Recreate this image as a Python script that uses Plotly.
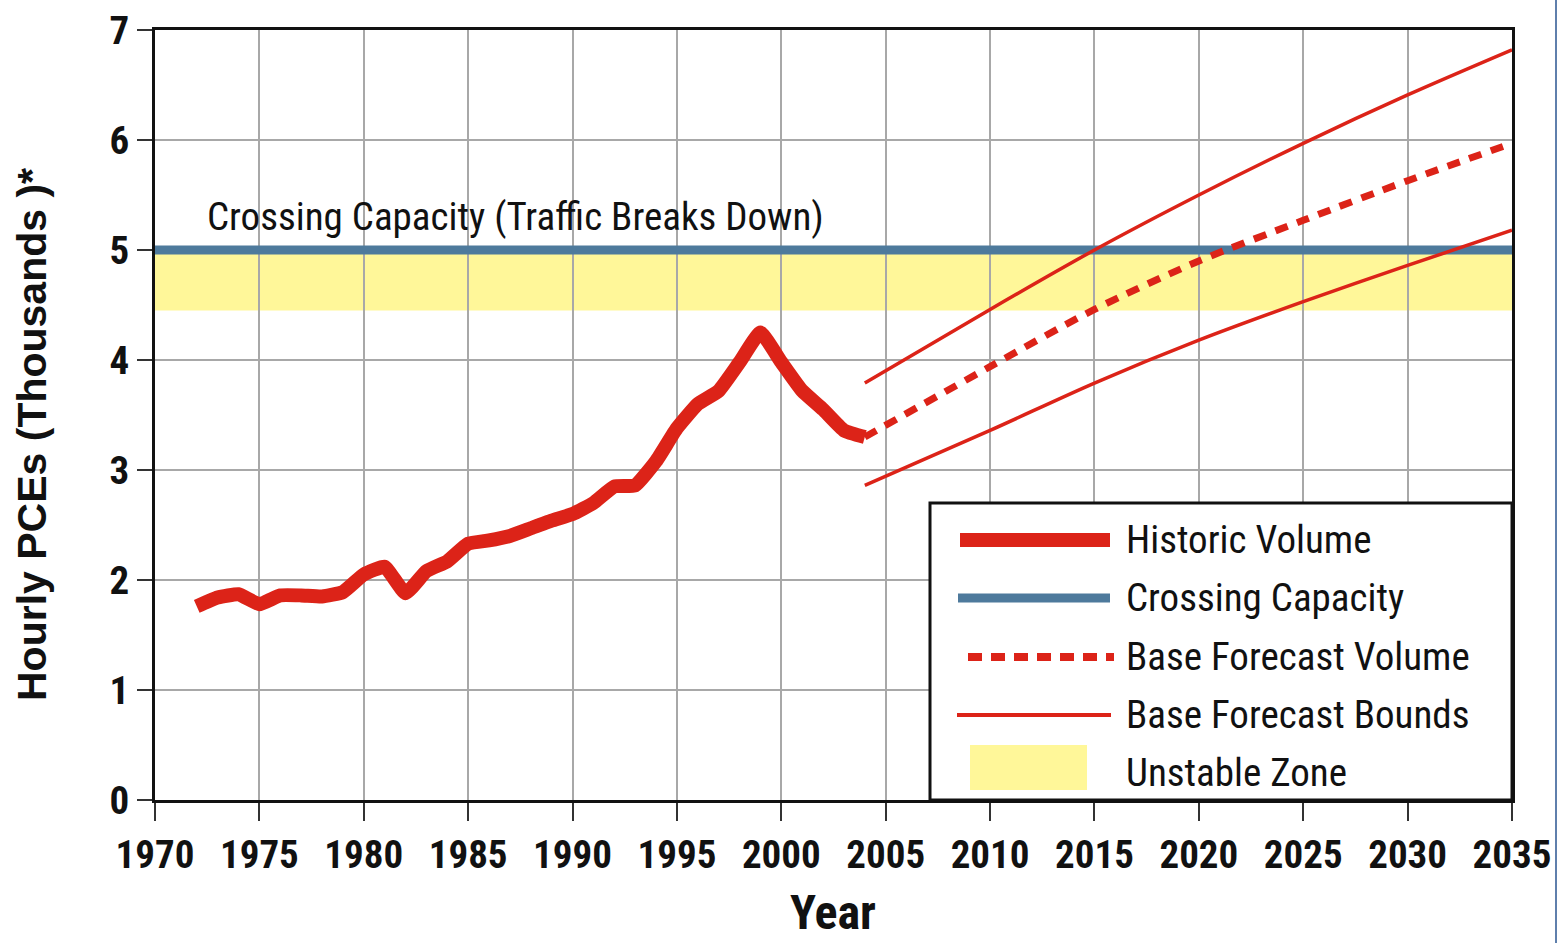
import plotly.graph_objects as go

# ---------------- data ----------------
hist_years = [1972, 1973, 1974, 1975, 1976, 1977, 1978, 1979, 1980, 1981, 1982, 1983,
              1984, 1985, 1986, 1987, 1988, 1989, 1990, 1991, 1992, 1993, 1994, 1995,
              1996, 1997, 1998, 1999, 2000, 2001, 2002, 2003, 2004]
hist_values = [1.76, 1.84, 1.87, 1.78, 1.86, 1.86, 1.85, 1.89, 2.05, 2.12, 1.88, 2.08,
               2.17, 2.33, 2.36, 2.40, 2.47, 2.54, 2.60, 2.70, 2.85, 2.86, 3.08, 3.38,
               3.60, 3.72, 3.98, 4.25, 3.98, 3.72, 3.55, 3.36, 3.30]

fc_years = [2004, 2010, 2015, 2020, 2025, 2030, 2035]
fc_base = [3.30, 3.94, 4.46, 4.90, 5.27, 5.63, 5.97]
fc_upper = [3.79, 4.46, 5.00, 5.50, 5.97, 6.41, 6.82]
fc_lower = [2.86, 3.36, 3.79, 4.18, 4.53, 4.86, 5.18]

capacity = 5.0
unstable_low = 4.45
x_range = [1970, 2035]
y_range = [0, 7]
x_ticks = list(range(1970, 2036, 5))
y_ticks = list(range(0, 8))

legend_labels = ["Historic Volume", "Crossing Capacity", "Base Forecast Volume",
                 "Base Forecast Bounds", "Unstable Zone"]
capacity_label = "Crossing Capacity (Traffic Breaks Down)"
y_title = "Hourly PCEs (Thousands )*"
x_title = "Year"

# ---------------- styles ----------------
RED = "#dc2318"
BLUE = "#4e7a9c"
YELLOW = "#fff799"
NARROW = "Roboto Condensed, Liberation Sans Narrow, Arial Narrow, sans-serif"
SANS = "Liberation Sans, Arial, sans-serif"

fig = go.Figure()

# unstable zone
fig.add_shape(type="rect", xref="x", yref="y", x0=x_range[0], x1=x_range[1],
              y0=unstable_low, y1=capacity, fillcolor=YELLOW, line_width=0, layer="below")

# capacity line
fig.add_trace(go.Scatter(x=x_range, y=[capacity, capacity], mode="lines",
                         line=dict(color=BLUE, width=9), showlegend=False, hoverinfo="skip"))

# forecast bounds
fig.add_trace(go.Scatter(x=fc_years, y=fc_upper, mode="lines",
                         line=dict(color=RED, width=3.5, shape="spline", smoothing=0.8),
                         showlegend=False))
fig.add_trace(go.Scatter(x=fc_years, y=fc_lower, mode="lines",
                         line=dict(color=RED, width=3.5, shape="spline", smoothing=0.8),
                         showlegend=False))
# base forecast
fig.add_trace(go.Scatter(x=fc_years, y=fc_base, mode="lines",
                         line=dict(color=RED, width=7, dash="13px,10px", shape="spline", smoothing=0.8),
                         showlegend=False))
# historic
fig.add_trace(go.Scatter(x=hist_years, y=hist_values, mode="lines",
                         line=dict(color=RED, width=14, shape="spline", smoothing=0.4),
                         showlegend=False))

# capacity label
fig.add_annotation(x=1972.4, y=5.07, xref="x", yref="y", text=capacity_label,
                   showarrow=False, xanchor="left", yanchor="bottom",
                   font=dict(family=NARROW, size=39, color="#111111"))

# ---------------- manual legend (paper coords) ----------------
W, H = 1559, 943
L, R, T, B = 155, 47, 30, 143
pw, ph = W - L - R, H - T - B


def px(xp):
    return (xp - L) / pw


def py(yp):
    return (H - B - yp) / ph


fig.add_shape(type="rect", xref="paper", yref="paper", x0=px(930), x1=1, y0=0, y1=py(503),
              fillcolor="white", line=dict(color="#111111", width=3), layer="above")
rows_y = [540, 598, 657, 715, 773]
fig.add_shape(type="line", xref="paper", yref="paper", x0=px(960), x1=px(1110),
              y0=py(rows_y[0]), y1=py(rows_y[0]), line=dict(color=RED, width=14), layer="above")
fig.add_shape(type="line", xref="paper", yref="paper", x0=px(958), x1=px(1110),
              y0=py(rows_y[1]), y1=py(rows_y[1]), line=dict(color=BLUE, width=9), layer="above")
fig.add_shape(type="line", xref="paper", yref="paper", x0=px(968), x1=px(1114),
              y0=py(rows_y[2]), y1=py(rows_y[2]), line=dict(color=RED, width=8, dash="14px,9px"), layer="above")
fig.add_shape(type="line", xref="paper", yref="paper", x0=px(957), x1=px(1111),
              y0=py(rows_y[3]), y1=py(rows_y[3]), line=dict(color=RED, width=4), layer="above")
fig.add_shape(type="rect", xref="paper", yref="paper", x0=px(970), x1=px(1087),
              y0=py(790), y1=py(745), fillcolor=YELLOW, line_width=0, layer="above")
for lbl, yy in zip(legend_labels, rows_y):
    fig.add_annotation(x=px(1124), y=py(yy), xref="paper", yref="paper", text=lbl,
                       showarrow=False, xanchor="left", yanchor="middle",
                       font=dict(family=NARROW, size=39, color="#111111"))

# axis titles (placed as text to match the original offsets)
fig.add_annotation(x=px(32), y=py(435), xref="paper", yref="paper", text=y_title,
                   showarrow=False, textangle=-90, xanchor="center", yanchor="middle",
                   font=dict(family=SANS, size=41, color="#111111", weight="bold"))
fig.add_annotation(x=px(833), y=py(913), xref="paper", yref="paper", text=x_title,
                   showarrow=False, xanchor="center", yanchor="middle",
                   font=dict(family=NARROW, size=48, color="#111111", weight="bold"))

# right edge border line of the original slide
fig.add_shape(type="line", xref="paper", yref="paper", x0=px(1556), x1=px(1556),
              y0=py(0), y1=py(943), line=dict(color="#2a5590", width=1.5))

fig.update_xaxes(range=x_range, tickvals=x_ticks, showgrid=True, gridcolor="#a8a8a8",
                 gridwidth=1.5, showline=True, linecolor="#111111", linewidth=3,
                 mirror=True, ticks="outside", ticklen=18, tickwidth=1.5, tickcolor="#333333",
                 tickfont=dict(family=NARROW, size=39, color="#111111", weight="bold"),
                 ticklabeloverflow="allow", automargin=False,
                 zeroline=False)
fig.update_yaxes(range=y_range, tickvals=y_ticks, showgrid=True, gridcolor="#a8a8a8",
                 gridwidth=1.5, showline=True, linecolor="#111111", linewidth=3,
                 mirror=True, ticks="outside", ticklen=15, tickwidth=1.5, tickcolor="#333333",
                 tickfont=dict(family=NARROW, size=39, color="#111111", weight="bold"),
                 ticklabeloverflow="allow", automargin=False,
                 zeroline=False)

fig.update_layout(width=W, height=H, margin=dict(l=L, r=R, t=T, b=B),
                  plot_bgcolor="white", paper_bgcolor="white", showlegend=False)

fig.write_html("out.html", config={"displayModeBar": False},
               post_script="document.body.style.margin='0';document.body.style.overflow='hidden';")
